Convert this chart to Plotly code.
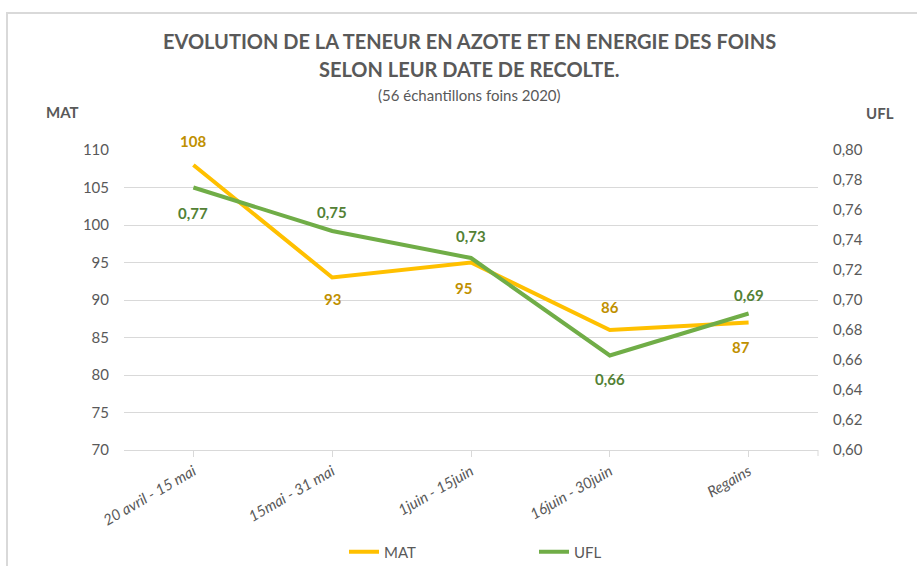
import plotly.graph_objects as go

categories = ["20 avril - 15 mai", "15mai - 31 mai", "1juin - 15juin", "16juin - 30juin", "Regains"]
mat_values = [108, 93, 95, 86, 87]
ufl_values = [0.775, 0.746, 0.728, 0.663, 0.691]
mat_labels = ["108", "93", "95", "86", "87"]
ufl_labels = ["0,77", "0,75", "0,73", "0,66", "0,69"]
mat_shift = [24, -21, -25, 23, -24]
ufl_shift = [-25, 19, 22, -23, 19]
mat_ticks = [70, 75, 80, 85, 90, 95, 100, 105, 110]
ufl_ticks = [0.60, 0.62, 0.64, 0.66, 0.68, 0.70, 0.72, 0.74, 0.76, 0.78, 0.80]

FONT = "Lato"
GRAY = "#595959"

W, H = 917, 566
L, R, T, B = 124, 99, 150, 116
pw, ph = W - L - R, H - T - B

def px(x):
    return (x - L) / pw

def py(y):
    return (H - B - y) / ph

x_idx = list(range(len(categories)))

fig = go.Figure()
fig.add_trace(go.Scatter(
    x=x_idx, y=mat_values, name="MAT", mode="lines",
    line=dict(color="#FFC000", width=4),
))
fig.add_trace(go.Scatter(
    x=x_idx, y=ufl_values, name="UFL", mode="lines", yaxis="y2",
    line=dict(color="#70AD47", width=4),
))

fig.update_layout(
    width=W, height=H,
    margin=dict(l=L, r=R, t=T, b=B, autoexpand=False),
    paper_bgcolor="white", plot_bgcolor="white",
    font=dict(family=FONT, color=GRAY, size=14),
    showlegend=True,
    separators=",.",
    legend=dict(orientation="h", x=px(344), xanchor="left", y=py(552), yanchor="middle",
                font=dict(family=FONT, size=15, color=GRAY), itemwidth=30,
                entrywidth=145, entrywidthmode="pixels"),
    xaxis=dict(
        range=[-0.5, 4.5], tickmode="array", tickvals=x_idx, ticktext=categories,
        tickangle=-30, showgrid=False, zeroline=False, automargin=False,
        showline=True, linecolor="#D9D9D9", linewidth=1,
        ticks="outside", ticklen=6, tickcolor="#D9D9D9",
        tickfont=dict(family=FONT, size=15, color=GRAY, style="italic"),
    ),
    yaxis=dict(
        range=[70, 110], tickvals=mat_ticks, showgrid=True, gridcolor="#D9D9D9", gridwidth=1,
        zeroline=False, ticks="", ticklabelstandoff=14, automargin=False,
        tickfont=dict(family=FONT, size=15, color=GRAY),
    ),
    yaxis2=dict(
        range=[0.60, 0.80], tickvals=ufl_ticks, overlaying="y", side="right",
        showgrid=False, zeroline=False, ticks="", automargin=False,
        tickformat=".2f", ticklabelstandoff=14,
        tickfont=dict(family=FONT, size=15, color=GRAY),
    ),
)

annotations = [
    dict(text="EVOLUTION DE LA TENEUR EN AZOTE ET EN ENERGIE DES FOINS", x=px(469), y=py(41),
         font=dict(family=FONT, size=20, color=GRAY, weight="bold")),
    dict(text="SELON LEUR DATE DE RECOLTE.", x=px(469), y=py(69),
         font=dict(family=FONT, size=20, color=GRAY, weight="bold")),
    dict(text="(56 échantillons foins 2020)", x=px(469), y=py(95),
         font=dict(family=FONT, size=15, color=GRAY)),
    dict(text="MAT", x=px(62), y=py(112), font=dict(family=FONT, size=15, color=GRAY, weight="bold")),
    dict(text="UFL", x=px(880), y=py(113), font=dict(family=FONT, size=15, color=GRAY, weight="bold")),
]
for a in annotations:
    a.update(xref="paper", yref="paper", showarrow=False, xanchor="center", yanchor="middle")

for i in x_idx:
    annotations.append(dict(x=i, y=mat_values[i], xref="x", yref="y", text=mat_labels[i],
                            showarrow=False, yshift=mat_shift[i],
                            xshift=-8 if mat_shift[i] < 0 and i > 1 else 0,
                            font=dict(family=FONT, size=15, color="#BF9000", weight="bold")))
    annotations.append(dict(x=i, y=ufl_values[i], xref="x", yref="y2", text=ufl_labels[i],
                            showarrow=False, yshift=ufl_shift[i],
                            font=dict(family=FONT, size=15, color="#538135", weight="bold")))
fig.update_layout(annotations=annotations)

fig.add_shape(type="rect", xref="paper", yref="paper",
              x0=px(7), x1=px(930), y0=py(580), y1=py(13),
              line=dict(color="#D9D9D9", width=2), fillcolor="rgba(0,0,0,0)", layer="below")
fig.add_shape(type="line", xref="paper", yref="paper",
              x0=1, x1=1, y0=0, y1=py(456), line=dict(color="#D9D9D9", width=1))

fig.write_html("out.html", config={"displayModeBar": False},
               post_script="document.body.style.margin='0';document.body.style.overflow='hidden';")
